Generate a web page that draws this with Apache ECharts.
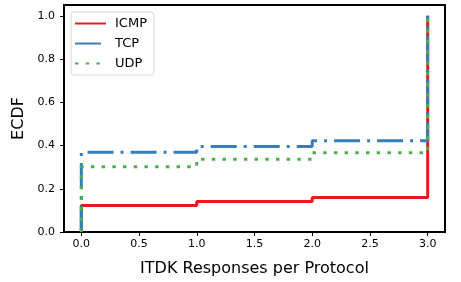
<!DOCTYPE html>
<html><head><meta charset="utf-8">
<script src="https://cdn.jsdelivr.net/npm/echarts@6/dist/echarts.min.js"></script>
<style>html,body{margin:0;padding:0;background:#fff}#c{width:461px;height:282px}</style>
</head><body><div id="c"></div>
<script>
const xSteps = [0, 1, 2, 3];
const icmp = [0.122, 0.141, 0.160, 1.0];
const tcp  = [0.369, 0.396, 0.422, 1.0];
const udp  = [0.302, 0.337, 0.366, 1.0];
const xTicks = [0, 0.5, 1, 1.5, 2, 2.5, 3];
const yTicks = [0, 0.2, 0.4, 0.6, 0.8, 1.0];

function ecdf(vals){
  const d = [[xSteps[0], 0]];
  for (let i = 0; i < xSteps.length; i++) {
    d.push([xSteps[i], vals[i]]);
    if (i + 1 < xSteps.length) d.push([xSteps[i+1], vals[i]]);
  }
  return d;
}
const font = 'DejaVu Sans';
const chart = echarts.init(document.getElementById('c'), null, {renderer:'canvas'});
chart.setOption({
  animation:false,
  grid:{left:64,right:16,top:5,bottom:44,show:true,borderColor:'#000',borderWidth:2,backgroundColor:'transparent'},
  legend:{
    orient:'vertical', left:71, top:12, itemWidth:31, itemHeight:10, itemGap:7,
    padding:[5,7,5,3], borderColor:'#d6d6d6', borderWidth:1, borderRadius:3, backgroundColor:'rgba(255,255,255,0.8)',
    itemStyle:{opacity:0},
    textStyle:{fontFamily:font,fontSize:13,color:'#000',padding:[0,0,0,4]},
    data:['ICMP','TCP','UDP']
  },
  xAxis:{type:'value',min:-0.15,max:3.15,
    name:'ITDK Responses per Protocol',nameLocation:'middle',nameGap:29,
    nameTextStyle:{fontFamily:font,fontSize:16,color:'#000'},
    axisLine:{show:false,onZero:false},splitLine:{show:false},
    axisTick:{show:true,customValues:xTicks,length:4,lineStyle:{color:'#000',width:1}},
    axisLabel:{customValues:xTicks,fontFamily:font,fontSize:11,color:'#000',margin:7,formatter:v=>v.toFixed(1)}
  },
  yAxis:{type:'value',min:0,max:1.05,
    name:'ECDF',nameLocation:'middle',nameGap:29,nameRotate:90,
    nameTextStyle:{fontFamily:font,fontSize:16,color:'#000'},
    axisLine:{show:false,onZero:false},splitLine:{show:false},
    axisTick:{show:true,customValues:yTicks,length:4,lineStyle:{color:'#000',width:1}},
    axisLabel:{customValues:yTicks,fontFamily:font,fontSize:11,color:'#000',margin:9,formatter:v=>v.toFixed(1)}
  },
  series:[
    {name:'ICMP',type:'line',symbol:'none',data:ecdf(icmp),
     lineStyle:{color:'#e41a1c',width:3,type:'solid'},itemStyle:{color:'#e41a1c'}},
    {name:'TCP',type:'line',symbol:'none',data:ecdf(tcp),
     lineStyle:{color:'#377eb8',width:3,type:[26,7,3,7]},itemStyle:{color:'#377eb8'}},
    {name:'UDP',type:'line',symbol:'none',data:ecdf(udp),
     lineStyle:{color:'#4daf4a',width:3,type:[3.5,7.2]},itemStyle:{color:'#4daf4a'}}
  ]
});
</script></body></html>
